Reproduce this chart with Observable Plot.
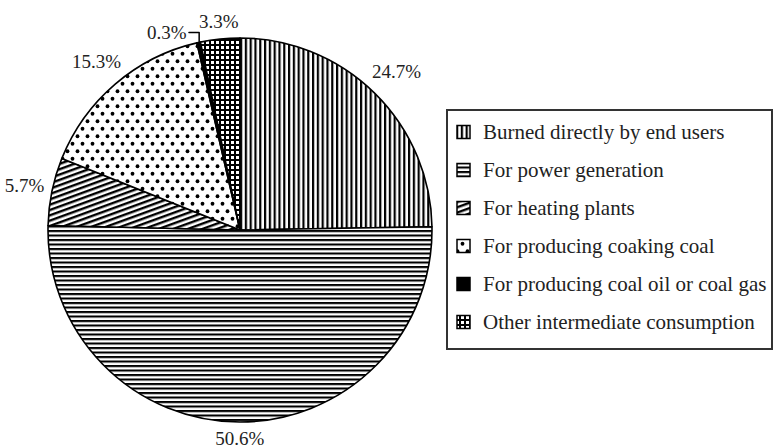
<!DOCTYPE html>
<html>
<head>
<meta charset="utf-8">
<script src="https://cdn.jsdelivr.net/npm/d3@7"></script>
<script src="https://cdn.jsdelivr.net/npm/@observablehq/plot@0.6"></script>
<style>
  html, body { margin: 0; padding: 0; background: #fff; }
  svg { font-family: "Liberation Serif", "DejaVu Serif", serif; }
</style>
</head>
<body>
<div id="chart"></div>
<script>
// ---- data ----
const categories = [
  "Burned directly by end users",
  "For power generation",
  "For heating plants",
  "For producing coaking coal",
  "For producing coal oil or coal gas",
  "Other intermediate consumption"
];
const shares = [24.7, 50.6, 5.7, 15.3, 0.3, 3.3];
const shareLabels = ["24.7%", "50.6%", "5.7%", "15.3%", "0.3%", "3.3%"];
const patternIds = ["pVert", "pHoriz", "pDiag", "pDots", "pSolid", "pCheck"];

// ---- layout ----
const W = 774, H = 448;
const cx = 240, cy = 230, R = 192;
const labelFont = 19, legendFont = 21;

const table = categories.map((c, i) => ({category: c, value: shares[i], label: shareLabels[i], pattern: patternIds[i]}));
const arcs = d3.pie().value(d => d.value).sort(null).startAngle(0).endAngle(2 * Math.PI)(table);

// label positions (in unit-circle data coordinates)
const labelData = arcs.map(a => {
  const small = a.data.value < 1;
  let A = (a.startAngle + a.endAngle) / 2;
  const w = a.data.label.length * 9.6, h = 16;
  let dist;
  if (small) {
    A = A - 8 * Math.PI / 180;
    dist = R * 1.1;
  } else {
    dist = R + 8 + Math.abs(Math.sin(A)) * w / 2 + Math.abs(Math.cos(A)) * h / 2;
  }
  return {x: dist / R * Math.sin(A), y: dist / R * Math.cos(A), text: a.data.label, small, w, mid: (a.startAngle + a.endAngle) / 2};
});

// leader lines for small slices
const leaderData = [];
labelData.filter(d => d.small).forEach((d, k) => {
  const x0 = d.x + (d.w / 2 + 3) / R;
  const x1 = Math.sin(d.mid);
  leaderData.push({x: x0, y: d.y, id: k});
  leaderData.push({x: x1, y: d.y, id: k});
  leaderData.push({x: x1, y: Math.cos(d.mid), id: k});
});

function defsMark() {
  const svg = d3.create("svg:g");
  const defs = svg.append("defs");
  let p = defs.append("pattern").attr("id", "pVert").attr("patternUnits", "userSpaceOnUse").attr("width", 4.8).attr("height", 10);
  p.append("rect").attr("width", 4.8).attr("height", 10).attr("fill", "#fff");
  p.append("rect").attr("x", 0).attr("width", 2.2).attr("height", 10).attr("fill", "#000");
  p = defs.append("pattern").attr("id", "pHoriz").attr("patternUnits", "userSpaceOnUse").attr("width", 10).attr("height", 4.5);
  p.append("rect").attr("width", 10).attr("height", 4.5).attr("fill", "#fff");
  p.append("rect").attr("y", 0).attr("width", 10).attr("height", 2.1).attr("fill", "#000");
  p = defs.append("pattern").attr("id", "pDiag").attr("patternUnits", "userSpaceOnUse").attr("width", 20).attr("height", 5)
    .attr("patternTransform", "rotate(-20)");
  p.append("rect").attr("width", 20).attr("height", 5).attr("fill", "#fff");
  p.append("rect").attr("width", 20).attr("height", 2.4).attr("fill", "#000");
  p = defs.append("pattern").attr("id", "pDots").attr("patternUnits", "userSpaceOnUse").attr("width", 10).attr("height", 15);
  p.append("rect").attr("width", 10).attr("height", 15).attr("fill", "#fff");
  p.append("circle").attr("cx", 2.5).attr("cy", 3.75).attr("r", 1.9).attr("fill", "#000");
  p.append("circle").attr("cx", 7.5).attr("cy", 11.25).attr("r", 1.9).attr("fill", "#000");
  p = defs.append("pattern").attr("id", "pSolid").attr("patternUnits", "userSpaceOnUse").attr("width", 4).attr("height", 4);
  p.append("rect").attr("width", 4).attr("height", 4).attr("fill", "#000");
  p = defs.append("pattern").attr("id", "pCheck").attr("patternUnits", "userSpaceOnUse").attr("width", 5).attr("height", 5);
  p.append("rect").attr("width", 5).attr("height", 5).attr("fill", "#000");
  p.append("rect").attr("x", 1).attr("y", 1).attr("width", 3).attr("height", 3).attr("fill", "#fff");
  return svg.node();
}

function pieMark(index, scales) {
  const x0 = scales.x(0), y0 = scales.y(0);
  const r = Math.abs(scales.x(1) - scales.x(0));
  const arc = d3.arc().innerRadius(0).outerRadius(r);
  const g = d3.create("svg:g").attr("transform", `translate(${x0},${y0})`);
  g.selectAll("path").data(arcs).join("path")
    .attr("d", arc)
    .attr("fill", d => `url(#${d.data.pattern})`)
    .attr("stroke", "#000")
    .attr("stroke-width", 1.6)
    .attr("stroke-linejoin", "round");
  return g.node();
}

function legendMark() {
  const g = d3.create("svg:g").attr("text-anchor", "start");
  const bx = 447, by = 110, bw = 325, bh = 239;
  g.append("rect").attr("x", bx).attr("y", by).attr("width", bw).attr("height", bh)
    .attr("fill", "none").attr("stroke", "#333").attr("stroke-width", 2);
  table.forEach((d, i) => {
    const yy = 132 + 38 * i;
    g.append("rect").attr("x", 457).attr("y", yy - 6.5).attr("width", 13).attr("height", 13)
      .attr("fill", `url(#${d.pattern})`).attr("stroke", "#000").attr("stroke-width", 1.5);
    g.append("text").attr("x", 483).attr("y", yy).attr("dy", "0.35em")
      .attr("text-anchor", "start")
      .attr("font-size", legendFont).attr("fill", "#222").text(d.category);
  });
  return g.node();
}

const chart = Plot.plot({
  width: W,
  height: H,
  margin: 0,
  x: {domain: [-1, 1], range: [cx - R, cx + R], axis: null},
  y: {domain: [-1, 1], range: [cy + R, cy - R], axis: null},
  style: {fontFamily: "'Liberation Serif', 'DejaVu Serif', serif", background: "#fff"},
  marks: [
    defsMark,
    pieMark,
    Plot.line(leaderData, {x: "x", y: "y", z: "id", stroke: "#000", strokeWidth: 1.5}),
    Plot.text(labelData, {x: "x", y: "y", text: "text", fontSize: labelFont, fill: "#222"}),
    legendMark
  ]
});
document.getElementById("chart").appendChild(chart);
</script>
</body>
</html>
